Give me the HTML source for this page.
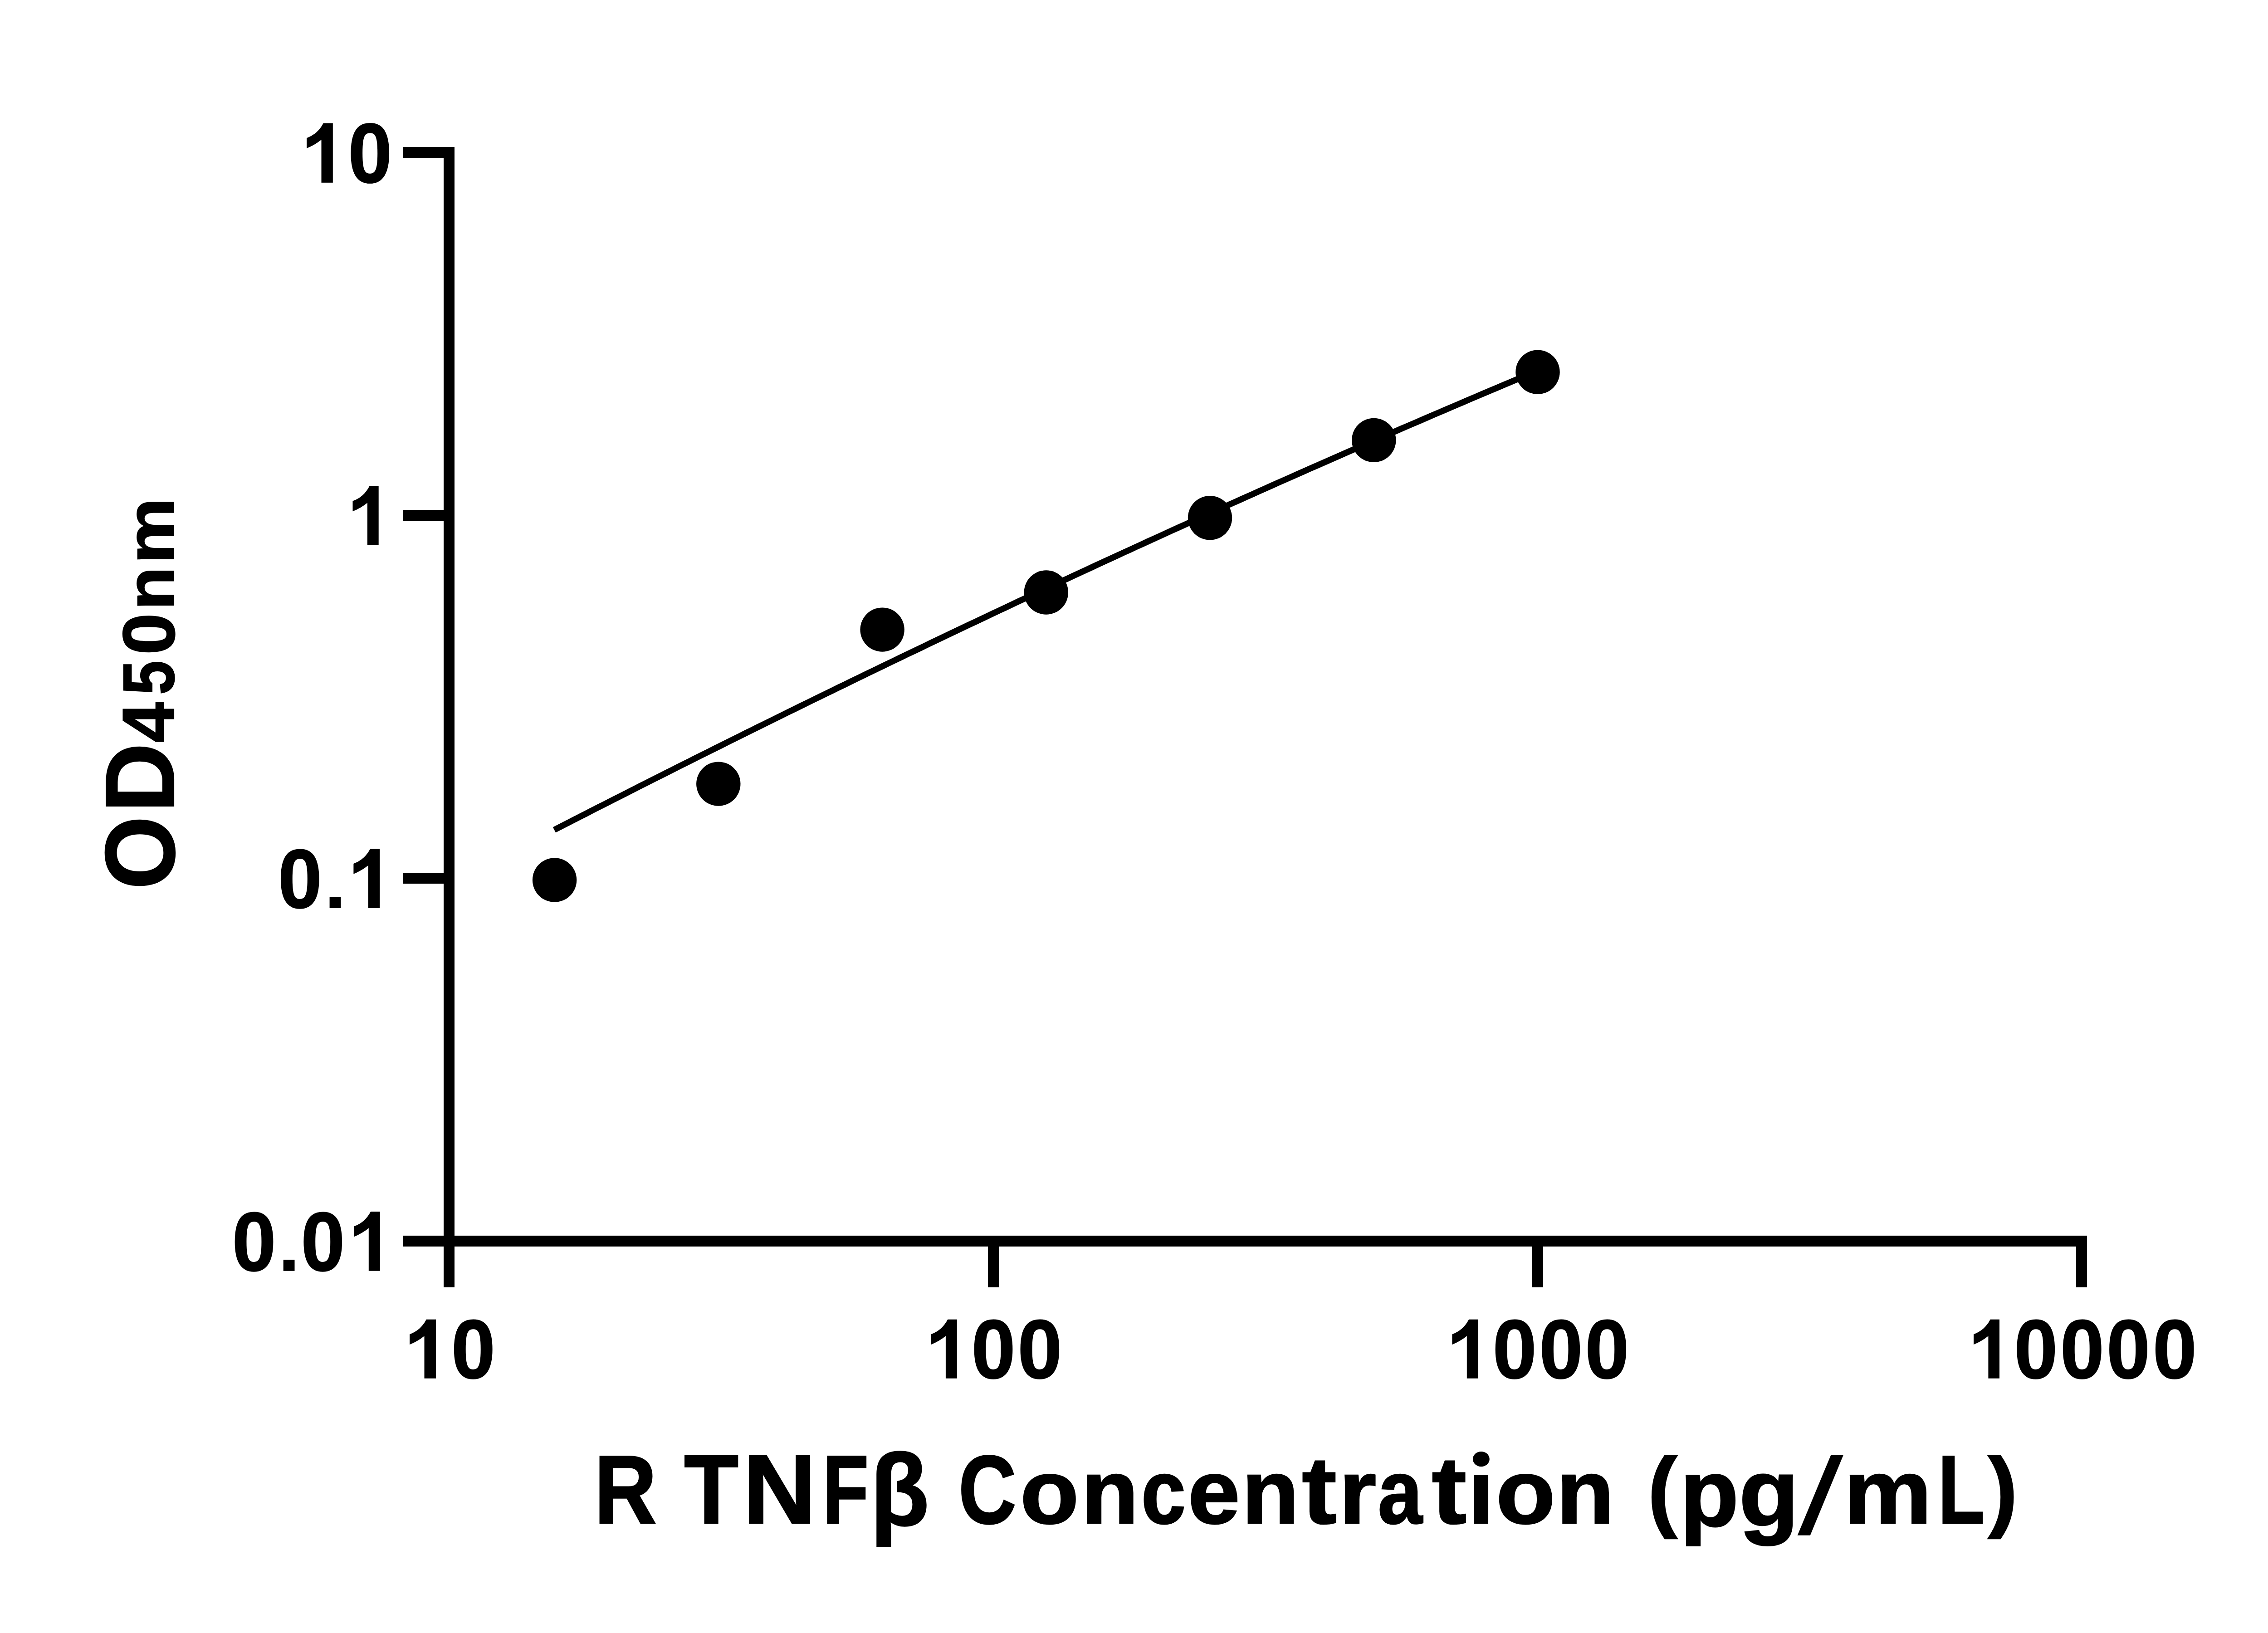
<!DOCTYPE html>
<html><head><meta charset="utf-8"><title>R TNFβ Concentration standard curve</title>
<style>
html,body{margin:0;padding:0;background:#fff;}
body{width:5142px;height:3600px;overflow:hidden;position:relative;}
svg{position:absolute;left:0;top:0;display:block;}
text{text-rendering:geometricPrecision;font-family:"Liberation Sans",sans-serif;font-weight:bold;font-size:2048px;fill:#000;stroke:#000;stroke-linejoin:miter;}
</style></head>
<body>
<svg width="5142" height="3600" viewBox="0 0 5142 3600">
<defs><clipPath id="clipi"><rect x="3230" y="3245" width="70" height="130"/></clipPath></defs>
<rect x="0" y="0" width="5142" height="3600" fill="#fff"/>
<g fill="#000">
<rect x="978" y="324" width="24" height="2514"/>
<rect x="888" y="2724" width="3713" height="24"/>
<rect x="888" y="324" width="102" height="24"/>
<rect x="888" y="1124" width="102" height="24"/>
<rect x="888" y="1924" width="102" height="24"/>
<rect x="888" y="2724" width="102" height="24"/>
<rect x="978" y="2736" width="24" height="102"/>
<rect x="2178" y="2736" width="24" height="102"/>
<rect x="3378" y="2736" width="24" height="102"/>
<rect x="4577" y="2736" width="24" height="102"/>
<path d="M1222.0,1829.5 L1235.6,1822.5 L1249.3,1815.5 L1262.9,1808.5 L1276.5,1801.5 L1290.2,1794.6 L1303.8,1787.6 L1317.4,1780.6 L1331.1,1773.7 L1344.7,1766.7 L1358.4,1759.8 L1372.0,1752.9 L1385.6,1745.9 L1399.3,1739.0 L1412.9,1732.1 L1426.5,1725.2 L1440.2,1718.3 L1453.8,1711.4 L1467.4,1704.6 L1481.1,1697.7 L1494.7,1690.8 L1508.3,1684.0 L1522.0,1677.2 L1535.6,1670.3 L1549.2,1663.5 L1562.9,1656.7 L1576.5,1649.9 L1590.2,1643.1 L1603.8,1636.3 L1617.4,1629.5 L1631.1,1622.7 L1644.7,1615.9 L1658.3,1609.2 L1672.0,1602.4 L1685.6,1595.7 L1699.2,1589.0 L1712.9,1582.2 L1726.5,1575.5 L1740.1,1568.8 L1753.8,1562.1 L1767.4,1555.4 L1781.0,1548.7 L1794.7,1542.0 L1808.3,1535.4 L1821.9,1528.7 L1835.6,1522.1 L1849.2,1515.4 L1862.9,1508.8 L1876.5,1502.1 L1890.1,1495.5 L1903.8,1488.9 L1917.4,1482.3 L1931.0,1475.7 L1944.7,1469.1 L1958.3,1462.5 L1971.9,1456.0 L1985.6,1449.4 L1999.2,1442.8 L2012.8,1436.3 L2026.5,1429.8 L2040.1,1423.2 L2053.7,1416.7 L2067.4,1410.2 L2081.0,1403.7 L2094.7,1397.2 L2108.3,1390.7 L2121.9,1384.2 L2135.6,1377.7 L2149.2,1371.3 L2162.8,1364.8 L2176.5,1358.4 L2190.1,1351.9 L2203.7,1345.5 L2217.4,1339.1 L2231.0,1332.7 L2244.6,1326.2 L2258.3,1319.8 L2271.9,1313.4 L2285.5,1307.1 L2299.2,1300.7 L2312.8,1294.3 L2326.5,1288.0 L2340.1,1281.6 L2353.7,1275.3 L2367.4,1268.9 L2381.0,1262.6 L2394.6,1256.3 L2408.3,1250.0 L2421.9,1243.7 L2435.5,1237.4 L2449.2,1231.1 L2462.8,1224.8 L2476.4,1218.5 L2490.1,1212.3 L2503.7,1206.0 L2517.3,1199.8 L2531.0,1193.5 L2544.6,1187.3 L2558.3,1181.1 L2571.9,1174.9 L2585.5,1168.7 L2599.2,1162.5 L2612.8,1156.3 L2626.4,1150.1 L2640.1,1143.9 L2653.7,1137.8 L2667.3,1131.6 L2681.0,1125.5 L2694.6,1119.3 L2708.2,1113.2 L2721.9,1107.1 L2735.5,1101.0 L2749.1,1094.9 L2762.8,1088.8 L2776.4,1082.7 L2790.1,1076.6 L2803.7,1070.5 L2817.3,1064.4 L2831.0,1058.4 L2844.6,1052.3 L2858.2,1046.3 L2871.9,1040.3 L2885.5,1034.2 L2899.1,1028.2 L2912.8,1022.2 L2926.4,1016.2 L2940.0,1010.2 L2953.7,1004.2 L2967.3,998.3 L2980.9,992.3 L2994.6,986.3 L3008.2,980.4 L3021.8,974.4 L3035.5,968.5 L3049.1,962.6 L3062.8,956.7 L3076.4,950.7 L3090.0,944.8 L3103.7,938.9 L3117.3,933.1 L3130.9,927.2 L3144.6,921.3 L3158.2,915.4 L3171.8,909.6 L3185.5,903.7 L3199.1,897.9 L3212.7,892.1 L3226.4,886.3 L3240.0,880.4 L3253.6,874.6 L3267.3,868.8 L3280.9,863.1 L3294.6,857.3 L3308.2,851.5 L3321.8,845.7 L3335.5,840.0 L3349.1,834.2 L3362.7,828.5 L3376.4,822.8 L3390.0,817.0" fill="none" stroke="#000" stroke-width="13.5" stroke-linecap="butt" stroke-linejoin="round"/>
<circle cx="1222.6" cy="1940.0" r="48.7"/>
<circle cx="1583.8" cy="1728.1" r="48.7"/>
<circle cx="1945.1" cy="1388.1" r="48.7"/>
<circle cx="2306.3" cy="1306.0" r="48.7"/>
<circle cx="2667.5" cy="1141.7" r="48.7"/>
<circle cx="3028.8" cy="970.4" r="48.7"/>
<circle cx="3390.0" cy="820.2" r="48.7"/>
<path d="M712.9,271.6 L733.8,271.6 L733.8,402.7 L708.5,402.7 L708.5,308.1 Q693.9,319.9 676.1,327.0 L676.1,304.2 Q700.5,295.6 712.9,271.6 Z"/>
<path d="M814.3,1071.9 L834.7,1071.9 L834.7,1202.0 L809.9,1202.0 L809.9,1108.4 Q795.3,1120.2 777.5,1127.3 L777.5,1104.5 Q801.9,1095.9 814.3,1071.9 Z"/>
<rect x="726.6" y="1977.2" width="24.8" height="24.8"/>
<path d="M816.2,1871.3 L837.1,1871.3 L837.1,2002.0 L811.8,2002.0 L811.8,1907.8 Q797.2,1919.6 779.4,1926.7 L779.4,1903.9 Q803.8,1895.3 816.2,1871.3 Z"/>
<rect x="624.7" y="2777.0" width="24.8" height="24.8"/>
<path d="M817.2,2671.0 L837.8,2671.0 L837.8,2801.8 L812.8,2801.8 L812.8,2707.5 Q798.2,2719.3 780.4,2726.4 L780.4,2703.6 Q804.8,2695.0 817.2,2671.0 Z"/>
<path d="M939.9,2908.8 L961.0,2908.8 L961.0,3038.8 L935.5,3038.8 L935.5,2945.3 Q920.9,2957.1 903.1,2964.2 L903.1,2941.4 Q927.5,2932.8 939.9,2908.8 Z"/>
<path d="M2089.3,2908.8 L2109.8,2908.8 L2109.8,3038.8 L2084.9,3038.8 L2084.9,2945.3 Q2070.3,2957.1 2052.5,2964.2 L2052.5,2941.4 Q2076.9,2932.8 2089.3,2908.8 Z"/>
<path d="M3238.2,2908.8 L3258.7,2908.8 L3258.7,3038.8 L3233.8,3038.8 L3233.8,2945.3 Q3219.2,2957.1 3201.4,2964.2 L3201.4,2941.4 Q3225.8,2932.8 3238.2,2908.8 Z"/>
<path d="M4387.8,2908.8 L4408.0,2908.8 L4408.0,3038.8 L4383.4,3038.8 L4383.4,2945.3 Q4368.8,2957.1 4351.0,2964.2 L4351.0,2941.4 Q4375.4,2932.8 4387.8,2908.8 Z"/>
</g>
<g>
<text transform="matrix(0.084971 0 0 0.090508 767.586 402.058)" stroke-width="22.8">0</text>
<text transform="matrix(0.085168 0 0 0.089962 612.974 2000.973)" stroke-width="22.8">0</text>
<text transform="matrix(0.084967 0 0 0.090097 511.789 2800.868)" stroke-width="22.9">0</text>
<text transform="matrix(0.085068 0 0 0.090098 663.581 2800.869)" stroke-width="22.8">0</text>
<text transform="matrix(0.084864 0 0 0.089959 994.997 3038.471)" stroke-width="22.9">0</text>
<text transform="matrix(0.084864 0 0 0.089959 2141.797 3038.471)" stroke-width="22.9">0</text>
<text transform="matrix(0.085777 0 0 0.089967 2243.528 3038.477)" stroke-width="22.8">0</text>
<text transform="matrix(0.085168 0 0 0.089962 3290.774 3038.473)" stroke-width="22.8">0</text>
<text transform="matrix(0.084255 0 0 0.089954 3393.543 3038.468)" stroke-width="23.0">0</text>
<text transform="matrix(0.085270 0 0 0.089963 3494.567 3038.474)" stroke-width="22.8">0</text>
<text transform="matrix(0.084255 0 0 0.089954 4440.443 3038.468)" stroke-width="23.0">0</text>
<text transform="matrix(0.084661 0 0 0.089958 4542.113 3038.470)" stroke-width="22.9">0</text>
<text transform="matrix(0.084255 0 0 0.089954 4644.243 3038.468)" stroke-width="23.0">0</text>
<text transform="matrix(0.085168 0 0 0.089962 4745.974 3038.473)" stroke-width="22.8">0</text>
<text transform="matrix(0.093210 0 0 0.104980 1310.244 3357.808)" stroke-width="30.3">R</text>
<text transform="matrix(0.095882 0 0 0.105011 1508.228 3357.830)" stroke-width="29.9">T</text>
<text transform="matrix(0.109501 0 0 0.105153 1637.729 3357.930)" stroke-width="28.0">N</text>
<text transform="matrix(0.080719 0 0 0.104813 1813.558 3357.691)" stroke-width="32.6">F</text>
<text transform="matrix(0.086391 0 0 0.104893 2113.304 3357.747)" stroke-width="31.5">C</text>
<text transform="matrix(0.082061 0 0 0.104833 4272.485 3357.705)" stroke-width="32.3">L</text>
<text transform="matrix(0.103581 0 0 0.097452 2248.960 3357.945)" stroke-width="29.9">o</text>
<text transform="matrix(0.100857 0 0 0.097418 2384.111 3357.926)" stroke-width="30.3">n</text>
<text transform="matrix(0.086162 0 0 0.097202 2516.119 3357.807)" stroke-width="32.8">c</text>
<text transform="matrix(0.100558 0 0 0.097414 2618.879 3357.924)" stroke-width="30.3">e</text>
<text transform="matrix(0.100857 0 0 0.097418 2737.711 3357.926)" stroke-width="30.3">n</text>
<text transform="matrix(0.103809 0 0 0.097455 2951.834 3357.947)" stroke-width="29.8">r</text>
<text transform="matrix(0.086150 0 0 0.097202 3037.843 3357.807)" stroke-width="32.8">a</text>
<text transform="matrix(0.104124 0 0 0.097459 3297.921 3357.949)" stroke-width="29.8">o</text>
<text transform="matrix(0.101554 0 0 0.097427 3431.222 3357.931)" stroke-width="30.2">n</text>
<text transform="matrix(0.106837 0 0 0.097492 4065.047 3357.967)" stroke-width="29.4">m</text>
<text transform="matrix(0.112444 0 0 0.102941 2870.357 3357.965)" stroke-width="27.9">t</text>
<text transform="matrix(0.111825 0 0 0.102935 3156.468 3357.961)" stroke-width="28.0">t</text>
<g clip-path="url(#clipi)"><text transform="matrix(0.102542 0 0 0.096935 3235.979 3357.742)" stroke-width="30.1">i</text></g>
<ellipse cx="3265.4" cy="3216.6" rx="18.4" ry="16.6"/>
<text transform="matrix(0.103833 0 0 0.109752 1919.115 3361.813)" stroke-width="28.1">β</text>
<text transform="matrix(0.103479 0 0 0.102817 3703.735 3364.108)" stroke-width="29.1">p</text>
<text transform="matrix(0.105203 0 0 0.102369 3833.684 3363.392)" stroke-width="28.9">g</text>
<text transform="matrix(0.094822 0 0 0.095282 3632.825 3351.202)" stroke-width="31.6">(</text>
<text transform="matrix(0.094317 0 0 0.095278 4383.004 3351.199)" stroke-width="31.6">)</text>
<text transform="matrix(0.115226 0.000000 -0.026078 0.115869 3961.565 3379.949)">/</text>
</g>
<g transform="translate(0 3600) rotate(-90)">
<text transform="matrix(0.101579 0 0 0.106036 1639.144 383.755)" stroke-width="21.2">O</text>
<text transform="matrix(0.103363 0 0 0.105661 1808.927 383.388)" stroke-width="21.1">D</text>
<text transform="matrix(0.078582 0 0 0.078918 1962.962 383.398)" stroke-width="27.9">4</text>
<text transform="matrix(0.066317 0 0 0.078451 2068.233 382.835)" stroke-width="30.5">5</text>
<text transform="matrix(0.081182 0 0 0.079123 2156.238 383.632)" stroke-width="27.4">0</text>
<text transform="matrix(0.076091 0 0 0.073023 2255.351 383.422)" stroke-width="29.5">n</text>
<text transform="matrix(0.079859 0 0 0.073069 2357.069 383.448)" stroke-width="28.8">m</text>
</g>
</svg>
</body></html>
